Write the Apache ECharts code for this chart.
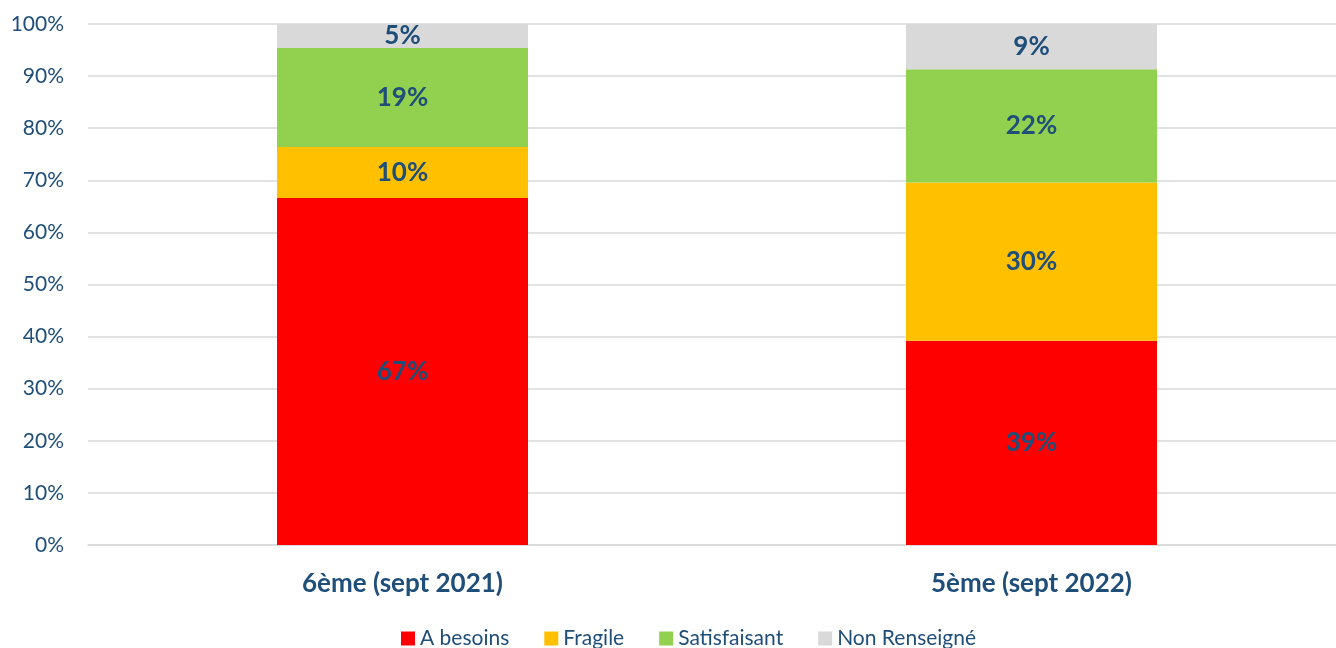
<!DOCTYPE html>
<html>
<head>
<meta charset="utf-8">
<script src="https://cdn.jsdelivr.net/npm/echarts@6/dist/echarts.min.js"></script>
<style>
  html, body { margin: 0; padding: 0; background: #fff; overflow: hidden; }
  #main { width: 1346px; height: 648px; }
</style>
</head>
<body>
<div id="main"></div>
<script>
  // données (en %)
  var categories = ['6ème (sept 2021)', '5ème (sept 2022)'];
  var aBesoins = [66.6, 39.2];
  var fragile = [9.8, 30.4];
  var satisfaisant = [19.0, 21.7];
  var nonRenseigne = [4.6, 8.7];

  var textColor = '#1F4E79';
  var font = 'Lato, "Open Sans", sans-serif';

  function serie(name, data, color) {
    return {
      name: name,
      type: 'bar',
      stack: 'total',
      barWidth: 251,
      data: data,
      itemStyle: { color: color },
      label: {
        show: true,
        position: 'inside',
        color: textColor,
        fontFamily: font,
        fontWeight: 'bold',
        fontSize: 26,
        formatter: function (p) { return Math.round(p.value) + '%'; }
      }
    };
  }

  var myChart = echarts.init(document.getElementById('main'));
  var option = {
    animation: false,
    grid: { left: 88, right: 0, top: 24, bottom: 103, containLabel: false },
    legend: {
      top: 628,
      left: 401,
      padding: 0,
      itemWidth: 14,
      itemHeight: 14,
      itemGap: 35,
      icon: 'rect',
      textStyle: { color: textColor, fontFamily: font, fontSize: 21 },
      data: ['A besoins', 'Fragile', 'Satisfaisant', 'Non Renseigné']
    },
    xAxis: {
      type: 'category',
      data: categories,
      axisLine: { lineStyle: { color: '#d9d9d9', width: 1.5 } },
      axisTick: { show: false },
      axisLabel: {
        color: textColor,
        fontFamily: font,
        fontWeight: 'bold',
        fontSize: 26,
        margin: 26
      }
    },
    yAxis: {
      type: 'value',
      min: 0,
      max: 100,
      interval: 10,
      axisLine: { show: false },
      axisTick: { show: false },
      splitLine: { lineStyle: { color: '#d9d9d9', width: 1.5 } },
      axisLabel: {
        color: textColor,
        fontFamily: font,
        fontSize: 21,
        margin: 24,
        formatter: '{value}%'
      }
    },
    series: [
      serie('A besoins', aBesoins, '#FF0000'),
      serie('Fragile', fragile, '#FFC000'),
      serie('Satisfaisant', satisfaisant, '#92D050'),
      serie('Non Renseigné', nonRenseigne, '#D9D9D9')
    ]
  };
  myChart.setOption(option);
</script>
</body>
</html>
